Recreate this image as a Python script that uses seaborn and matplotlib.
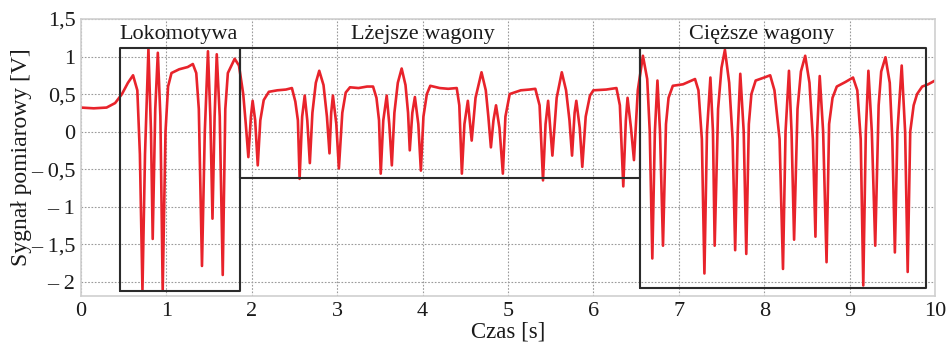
import numpy as np
import pandas as pd
import matplotlib
matplotlib.use("Agg")
import matplotlib.pyplot as plt
import seaborn as sns

# signal: time [s] and voltage [V] at peaks, troughs, shoulders
czas = [
    0.00, 0.15, 0.30, 0.40, 0.48, 0.55, 0.61, 0.66, 0.69, 0.72, 0.75, 0.79,
    0.82, 0.84, 0.87, 0.90, 0.93, 0.957, 0.99, 1.02, 1.06, 1.15, 1.25, 1.31,
    1.35, 1.38, 1.417, 1.45, 1.487, 1.515, 1.54, 1.565, 1.59, 1.625, 1.66, 1.69,
    1.72, 1.80, 1.85, 1.90, 1.93, 1.96, 1.99, 2.01, 2.04, 2.07, 2.10, 2.14,
    2.20, 2.30, 2.40, 2.47, 2.51, 2.54, 2.56, 2.59, 2.62, 2.65, 2.68, 2.71,
    2.75, 2.79, 2.84, 2.88, 2.91, 2.93, 2.95, 2.99, 3.02, 3.06, 3.10, 3.15,
    3.25, 3.35, 3.42, 3.46, 3.49, 3.51, 3.54, 3.58, 3.61, 3.64, 3.67, 3.71,
    3.755, 3.80, 3.83, 3.85, 3.88, 3.91, 3.95, 3.98, 4.01, 4.05, 4.09, 4.20,
    4.30, 4.40, 4.43, 4.46, 4.49, 4.53, 4.575, 4.62, 4.69, 4.74, 4.77, 4.80,
    4.83, 4.86, 4.90, 4.94, 4.97, 5.02, 5.15, 5.25, 5.32, 5.37, 5.41, 5.44,
    5.47, 5.52, 5.57, 5.63, 5.68, 5.72, 5.75, 5.78, 5.80, 5.84, 5.87, 5.91,
    5.96, 6.00, 6.15, 6.27, 6.31, 6.35, 6.38, 6.40, 6.44, 6.475, 6.52, 6.58,
    6.63, 6.66, 6.69, 6.72, 6.75, 6.78, 6.815, 6.85, 6.88, 6.93, 7.05, 7.19,
    7.23, 7.27, 7.30, 7.33, 7.37, 7.40, 7.42, 7.46, 7.50, 7.54, 7.59, 7.63,
    7.66, 7.69, 7.72, 7.76, 7.79, 7.82, 7.85, 7.90, 8.00, 8.07, 8.12, 8.18,
    8.22, 8.25, 8.29, 8.32, 8.35, 8.39, 8.43, 8.48, 8.53, 8.57, 8.60, 8.62,
    8.65, 8.69, 8.73, 8.76, 8.80, 8.85, 8.95, 9.04, 9.09, 9.13, 9.16, 9.19,
    9.22, 9.26, 9.30, 9.34, 9.37, 9.42, 9.47, 9.50, 9.53, 9.56, 9.61, 9.65,
    9.68, 9.71, 9.75, 9.79, 9.85, 9.92, 10.0,
]
sygnal = [
    0.32, 0.31, 0.32, 0.38, 0.50, 0.65, 0.75, 0.55, -0.30, -2.11, -0.30, 1.10,
    0.00, -1.43, 0.30, 1.05, 0.20, -2.12, 0.00, 0.60, 0.78, 0.83, 0.86, 0.90,
    0.78, 0.30, -1.79, 0.00, 1.07, 0.20, -1.16, 0.20, 1.03, 0.20, -1.91, 0.30,
    0.78, 0.97, 0.88, 0.50, 0.10, -0.34, 0.20, 0.41, 0.15, -0.45, 0.15, 0.42,
    0.53, 0.55, 0.56, 0.58, 0.40, 0.15, -0.63, 0.20, 0.48, 0.15, -0.42, 0.25,
    0.65, 0.81, 0.62, 0.20, -0.29, 0.25, 0.48, 0.10, -0.49, 0.25, 0.52, 0.59,
    0.58, 0.60, 0.60, 0.45, 0.15, -0.56, 0.15, 0.48, 0.10, -0.45, 0.25, 0.65,
    0.84, 0.62, 0.25, -0.25, 0.25, 0.46, 0.10, -0.52, 0.20, 0.50, 0.61, 0.58,
    0.57, 0.58, 0.35, -0.56, 0.10, 0.41, -0.12, 0.45, 0.79, 0.55, 0.20, -0.21,
    0.15, 0.35, 0.05, -0.56, 0.20, 0.50, 0.55, 0.56, 0.57, 0.35, -0.65, 0.10,
    0.41, -0.32, 0.45, 0.79, 0.55, 0.15, -0.32, 0.25, 0.41, 0.05, -0.47, 0.20,
    0.48, 0.55, 0.56, 0.58, 0.35, -0.73, 0.15, 0.45, 0.05, -0.38, 0.55, 1.01,
    0.70, 0.00, -1.69, 0.00, 0.68, 0.00, -1.52, 0.10, 0.45, 0.61, 0.63, 0.70,
    0.55, -0.10, -1.89, 0.00, 0.72, 0.00, -1.52, 0.30, 0.85, 1.09, 0.65, -0.10,
    -1.58, 0.00, 0.77, 0.00, -1.63, 0.10, 0.50, 0.68, 0.72, 0.75, 0.55, -0.10,
    -1.83, 0.00, 0.81, 0.00, -1.44, 0.30, 0.80, 1.01, 0.65, -0.10, -1.40, 0.00,
    0.74, 0.00, -1.74, 0.10, 0.45, 0.60, 0.66, 0.72, 0.55, -0.10, -2.05, 0.00,
    0.81, 0.00, -1.52, 0.35, 0.80, 0.99, 0.65, -0.10, -1.61, 0.00, 0.88, 0.00,
    -1.87, 0.00, 0.35, 0.50, 0.60, 0.63, 0.68,
]

# framed sections: name, t_start, t_end, v_bottom, v_top
sekcje = ["Lokomotywa", "Lżejsze wagony", "Cięższe wagony"]
sekcje_t0 = [0.46, 1.86, 6.55]
sekcje_t1 = [1.86, 6.55, 9.90]
sekcje_dol = [-2.13, -0.62, -2.09]
sekcje_gora = [1.12, 1.12, 1.12]
sekcje_etykieta_x = [1.14, 4.0, 7.97]

y_ticks = [1.5, 1.0, 0.5, 0.0, -0.5, -1.0, -1.5, -2.0]
y_labels = ["1,5", "1", "0,5", "0", "– 0,5", "– 1", "– 1,5", "– 2"]


def main():
    sns.set_style("whitegrid")
    plt.rcParams["font.family"] = ["Liberation Serif", "DejaVu Serif"]

    df = pd.DataFrame({"czas": czas, "sygnal": sygnal})

    fig = plt.figure(figsize=(9.48, 3.42), dpi=100)
    ax = fig.add_axes([0.0854, 0.1345, 0.9009, 0.81])

    sns.lineplot(data=df, x="czas", y="sygnal", ax=ax, color="#e8232b",
                 linewidth=1.9, sort=False)

    for i in range(len(sekcje)):
        t0, t1 = sekcje_t0[i], sekcje_t1[i]
        lo, hi = sekcje_dol[i], sekcje_gora[i]
        ax.plot([t0, t1, t1, t0, t0], [lo, lo, hi, hi, lo],
                color="#2b2b2b", linewidth=1.5, zorder=3)
        ax.text(sekcje_etykieta_x[i], 1.29, sekcje[i], ha="center",
                va="center", fontsize=16, color="#1a1a1a")

    ax.set_xlim(0, 10)
    ax.set_ylim(-2.19, 1.5)
    ax.set_xticks(range(0, 11))
    ax.set_yticks(y_ticks)
    ax.set_yticklabels(y_labels)
    ax.tick_params(labelsize=16, colors="#1a1a1a", length=0, pad=4)

    ax.grid(True, color="#9a9a9a", linestyle=(0, (1.5, 1.5)), linewidth=0.8)
    for s in ax.spines.values():
        s.set_color("#cfcfcf")
        s.set_linewidth(1.2)

    ax.set_xlabel("Czas [s]", fontsize=16.5, color="#1a1a1a", labelpad=0.5)
    ax.set_ylabel("Sygnał pomiarowy [V]", fontsize=17, color="#1a1a1a",
                  labelpad=-1)

    fig.savefig("out.png", dpi=100)


if __name__ == "__main__":
    main()
